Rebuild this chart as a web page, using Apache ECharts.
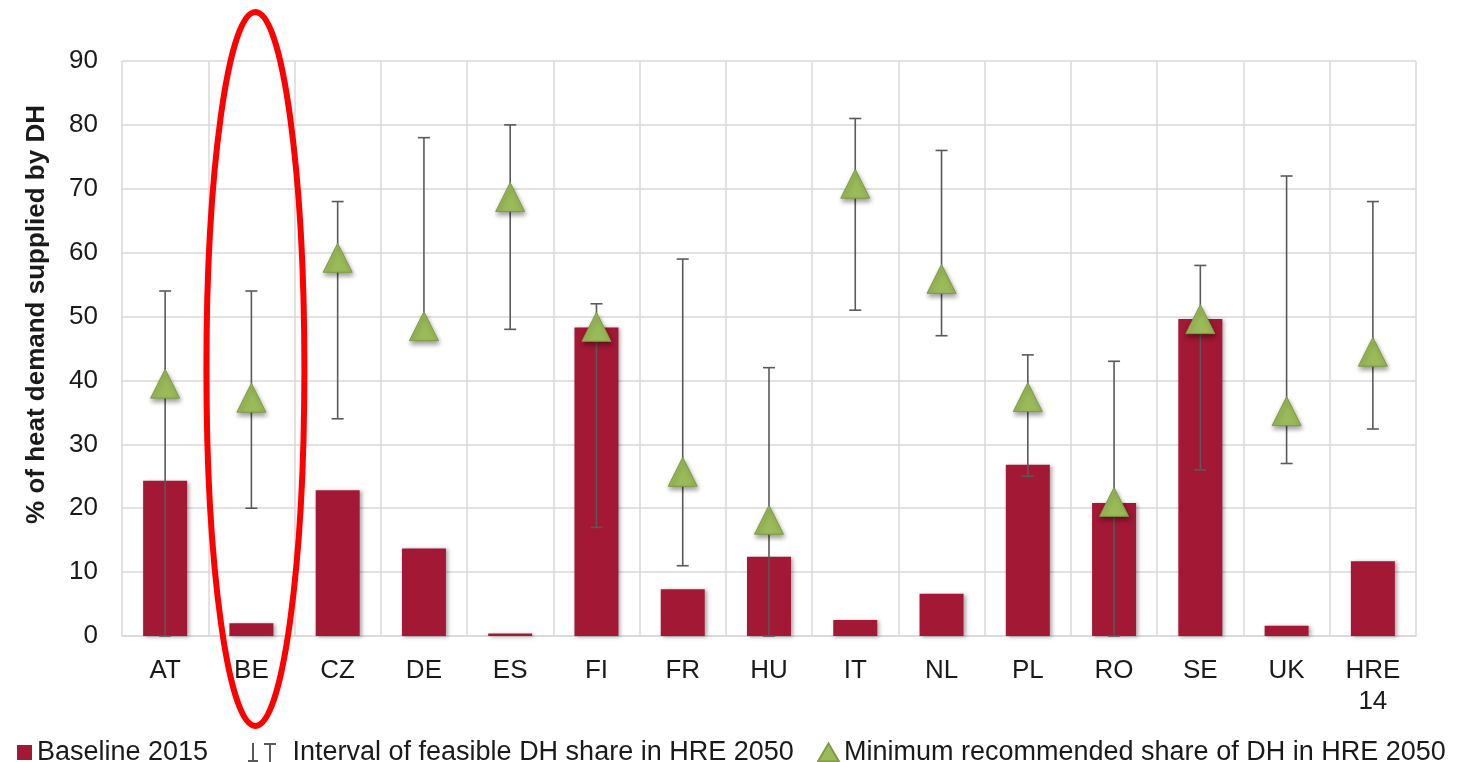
<!DOCTYPE html>
<html>
<head>
<meta charset="utf-8">
<script src="https://cdn.jsdelivr.net/npm/echarts@6/dist/echarts.min.js"></script>
<style>
  html, body { margin: 0; padding: 0; background: #fff; }
  #chart { width: 1476px; height: 762px; }
</style>
</head>
<body>
<div id="chart"></div>
<script>
var categories = ['AT', 'BE', 'CZ', 'DE', 'ES', 'FI', 'FR', 'HU', 'IT', 'NL', 'PL', 'RO', 'SE', 'UK', 'HRE\n14'];
var baseline2015 = [24.3, 2.0, 22.8, 13.7, 0.4, 48.3, 7.3, 12.4, 2.5, 6.6, 26.8, 20.8, 49.6, 1.6, 11.7];
var intervalLow = [0, 20, 34, 49, 48, 17, 11, 0, 51, 47, 25, 0, 26, 27, 32.4];
var intervalHigh = [54, 54, 68, 78, 80, 52, 59, 42, 81, 76, 44, 43, 58, 72, 68];
var minRecommended = [39.5, 37.3, 59.2, 48.5, 68.7, 48.4, 25.7, 18.2, 70.8, 55.9, 37.4, 21.0, 49.6, 35.2, 44.5];
var yTicks = {min: 0, max: 90, interval: 10};

var fontFamily = '"Liberation Sans", Arial, sans-serif';
var intervalIcon = 'path://M4,0h2v18h-2z M0,17h10v2h-10z M16,0h12v2h-12z M21,1h2v18h-2z';

var intervalData = categories.map(function (c, i) {
    return [i, intervalLow[i], intervalHigh[i]];
});

function renderInterval(params, api) {
    var lo = api.coord([api.value(0), api.value(1)]);
    var hi = api.coord([api.value(0), api.value(2)]);
    var half = 6;
    var style = {stroke: '#595959', lineWidth: 1.6};
    return {
        type: 'group',
        children: [
            {type: 'line', shape: {x1: lo[0], y1: lo[1], x2: hi[0], y2: hi[1]}, style: style},
            {type: 'line', shape: {x1: lo[0] - half, y1: lo[1], x2: lo[0] + half, y2: lo[1]}, style: style},
            {type: 'line', shape: {x1: hi[0] - half, y1: hi[1], x2: hi[0] + half, y2: hi[1]}, style: style}
        ]
    };
}

var myChart = echarts.init(document.getElementById('chart'));
var legendText = {color: '#1a1a1a', fontSize: 27, fontFamily: fontFamily};
var option = {
    animation: false,
    grid: {left: 122, right: 60, top: 61, bottom: 126},
    xAxis: {
        type: 'category',
        data: categories,
        axisLine: {lineStyle: {color: '#d9d9d9', width: 1.5}},
        axisTick: {show: false},
        splitLine: {show: true, lineStyle: {color: '#d9d9d9', width: 1.5}},
        axisLabel: {
            color: '#1a1a1a', fontSize: 26, fontFamily: fontFamily,
            margin: 19, lineHeight: 31, interval: 0
        }
    },
    yAxis: {
        type: 'value',
        min: yTicks.min,
        max: yTicks.max,
        interval: yTicks.interval,
        name: '% of heat demand supplied by DH',
        nameLocation: 'middle',
        nameGap: 72,
        nameTextStyle: {
            color: '#1a1a1a', fontSize: 26, fontWeight: 'bold', fontFamily: fontFamily,
            padding: [0, 0, 0, 68]
        },
        axisLine: {show: false},
        axisTick: {show: false},
        splitLine: {lineStyle: {color: '#d9d9d9', width: 1.5}},
        axisLabel: {color: '#1a1a1a', fontSize: 26, fontFamily: fontFamily, margin: 24}
    },
    legend: [
        {
            left: 12, top: 734,
            data: [{name: 'Baseline 2015', icon: 'rect'}],
            itemWidth: 15, itemHeight: 15,
            textStyle: legendText
        },
        {
            left: 243, top: 734,
            data: [{name: 'Interval of feasible DH share in HRE 2050', icon: intervalIcon}],
            itemWidth: 29, itemHeight: 19,
            textStyle: Object.assign({padding: [0, 0, 0, 11]}, legendText)
        },
        {
            left: 812, top: 734,
            data: [{name: 'Minimum recommended share of DH in HRE 2050', icon: 'triangle'}],
            itemWidth: 21, itemHeight: 18,
            textStyle: legendText
        }
    ],
    series: [
        {
            name: 'Baseline 2015',
            type: 'bar',
            data: baseline2015,
            barWidth: 44,
            itemStyle: {
                color: '#a31834',
                shadowColor: 'rgba(0,0,0,0.35)', shadowBlur: 4, shadowOffsetX: 2, shadowOffsetY: 1
            }
        },
        {
            name: 'Interval of feasible DH share in HRE 2050',
            type: 'custom',
            renderItem: renderInterval,
            data: intervalData,
            itemStyle: {color: '#595959'},
            z: 3
        },
        {
            name: 'Minimum recommended share of DH in HRE 2050',
            type: 'scatter',
            data: minRecommended,
            symbol: 'triangle',
            symbolSize: [29, 29],
            itemStyle: {
                color: '#9bbb59', borderColor: '#7d9c42', borderWidth: 1, opacity: 1,
                shadowColor: 'rgba(0,0,0,0.4)', shadowBlur: 5, shadowOffsetX: 1, shadowOffsetY: 3
            },
            z: 4
        }
    ]
};
myChart.setOption(option);

// red highlight ellipse around BE
var bePos = myChart.convertToPixel({xAxisIndex: 0}, 'BE');
myChart.setOption({
    graphic: [{
        type: 'ellipse',
        shape: {cx: bePos + 4, cy: 369, rx: 49, ry: 357},
        style: {fill: 'none', stroke: '#ff0000', lineWidth: 6},
        z: 100
    }]
});
</script>
</body>
</html>
